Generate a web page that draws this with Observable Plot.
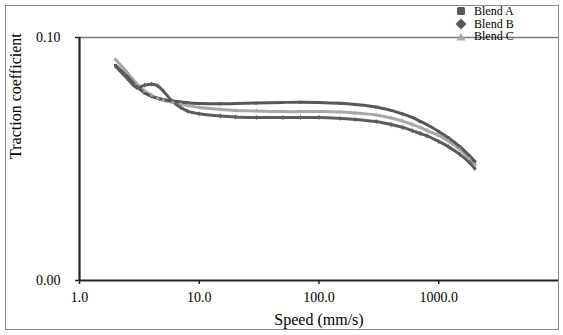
<!DOCTYPE html>
<html>
<head>
<meta charset="utf-8">
<script src="https://cdn.jsdelivr.net/npm/d3@7"></script>
<script src="https://cdn.jsdelivr.net/npm/@observablehq/plot@0.6"></script>
<style>
  body { margin: 0; background: #fff; }
  #wrap { position: relative; width: 563px; height: 335px; font-family: "Liberation Serif", "Times New Roman", serif; }
  #wrap svg text { font-family: "Liberation Serif", "Times New Roman", serif !important; }
  #border { position: absolute; left: 5px; top: 5px; width: 552px; height: 323px; border: 1px solid #8a8a8a; pointer-events: none; }
  #legend { position: absolute; left: 455px; top: 5px; font-size: 12px; line-height: 12.7px; color: #000; font-family: "Liberation Serif", "Times New Roman", serif; }
  #legend div { display: flex; align-items: center; height: 12.7px; }
  #legend svg { margin-right: 7px; }
</style>
</head>
<body>
<div id="wrap">
  <div id="chart"></div>
  <div id="border"></div>
  <div id="legend"></div>
</div>
<script>
const speeds = [2, 2.5, 3, 3.5, 4, 4.5, 5, 6, 7, 8, 10, 15, 20, 30, 50, 70, 100, 150, 200, 300, 400, 500, 600, 700, 800, 1000, 1200, 1500, 1800, 2000];
const blendA = [0.0885, 0.0840, 0.0798, 0.0772, 0.0758, 0.0750, 0.0745, 0.0739, 0.0735, 0.0731, 0.0728, 0.0727, 0.0728, 0.0730, 0.0733, 0.0734, 0.0733, 0.0729, 0.0724, 0.0714, 0.0700, 0.0685, 0.0671, 0.0655, 0.0641, 0.0613, 0.0588, 0.0551, 0.0514, 0.0490];
const blendB = [0.0882, 0.0832, 0.0794, 0.0804, 0.0808, 0.0801, 0.0780, 0.0736, 0.0712, 0.0697, 0.0686, 0.0677, 0.0673, 0.0671, 0.0671, 0.0671, 0.0671, 0.0667, 0.0663, 0.0654, 0.0642, 0.0630, 0.0617, 0.0605, 0.0595, 0.0572, 0.0551, 0.0519, 0.0486, 0.0461];
const blendC = [0.0909, 0.0856, 0.0811, 0.0780, 0.0762, 0.0750, 0.0742, 0.0733, 0.0726, 0.0720, 0.0712, 0.0704, 0.0700, 0.0698, 0.0695, 0.0695, 0.0695, 0.0693, 0.0689, 0.0681, 0.0669, 0.0656, 0.0642, 0.0630, 0.0617, 0.0597, 0.0574, 0.0539, 0.0502, 0.0477];
const seriesNames = ["Blend A", "Blend B", "Blend C"];
const seriesColors = ["#575757", "#5c5c5c", "#a8a8a8"];
const seriesSymbols = ["square", "diamond", "triangle"];
const xTicks = [1, 10, 100, 1000];
const yTicks = [0, 0.1];

const allSeries = [blendA, blendB, blendC];
const data = [];
allSeries.forEach((vals, i) => vals.forEach((v, j) => data.push({series: seriesNames[i], speed: speeds[j], value: v})));

const font = "'Liberation Serif', 'Times New Roman', serif";
const chart = Plot.plot({
  width: 563,
  height: 335,
  marginLeft: 79,
  marginRight: 5,
  marginTop: 37,
  marginBottom: 55,
  style: {fontFamily: font, fontSize: "13px", color: "#000", background: "transparent"},
  x: {type: "log", domain: [1, 10000], ticks: xTicks, tickFormat: d => d.toFixed(1)},
  y: {domain: [0, 0.1], ticks: yTicks, tickFormat: d => d.toFixed(2)},
  color: {domain: seriesNames, range: seriesColors},
  symbol: {domain: seriesNames, range: seriesSymbols},
  marks: [
    Plot.ruleY([0.1], {stroke: "#7a7a7a", strokeWidth: 1.3}),
    Plot.axisX({ticks: xTicks, tickFormat: d => d.toFixed(1), tickSize: 4, tickPadding: 8, stroke: "#222", strokeWidth: 1.5, fontSize: 14, label: null}),
    Plot.axisY({ticks: yTicks, tickFormat: d => d.toFixed(2), tickSize: 4, tickPadding: 15, stroke: "#222", strokeWidth: 1.5, fontSize: 14, label: null}),
    Plot.text(["Speed (mm/s)"], {frameAnchor: "bottom", dy: 44, fontSize: 16, text: d => d}),
    Plot.text(["Traction coefficient"], {frameAnchor: "left", dx: -64, rotate: -90, fontSize: 16, text: d => d}),
    Plot.line(data.filter(d => d.series === "Blend C"), {x: "speed", y: "value", stroke: "series", strokeWidth: 3, curve: "catmull-rom"}),
    Plot.line(data.filter(d => d.series !== "Blend C"), {x: "speed", y: "value", z: "series", stroke: "series", strokeWidth: 3, curve: "catmull-rom"}),
    Plot.dot(data, {x: "speed", y: "value", fill: "series", symbol: "series", r: 1.6}),
    Plot.ruleX([1], {y1: 0, y2: 0.1, stroke: "#222", strokeWidth: 2.2}),
    Plot.ruleY([0], {stroke: "#222", strokeWidth: 2.2})
  ]
});
document.getElementById("chart").appendChild(chart);

const legend = document.getElementById("legend");
const sym = {
  square: '<rect x="2" y="2" width="8" height="8" rx="1.5"/>',
  diamond: '<path d="M6 0.5 L11.5 6 L6 11.5 L0.5 6 Z"/>',
  triangle: '<path d="M6 2 L10.5 9.5 L1.5 9.5 Z"/>'
};
seriesNames.forEach((name, i) => {
  const row = document.createElement("div");
  row.innerHTML = `<svg width="12" height="12" fill="${seriesColors[i]}">${sym[seriesSymbols[i]]}</svg><span>${name}</span>`;
  legend.appendChild(row);
});
</script>
</body>
</html>
